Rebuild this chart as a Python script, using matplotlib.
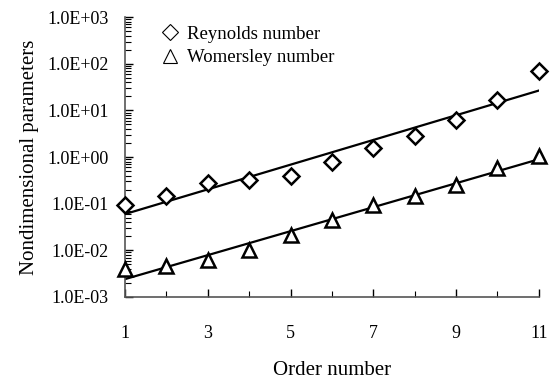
import numpy as np
import matplotlib.pyplot as plt
from matplotlib.ticker import FuncFormatter, LogLocator, FixedLocator

# Dati
order = np.arange(1, 12)
reynolds = [0.095, 0.146, 0.28, 0.33, 0.39, 0.8, 1.56, 2.9, 6.2, 17, 70]
womersley = [0.0039, 0.0047, 0.0062, 0.0102, 0.021, 0.045, 0.094, 0.146, 0.25, 0.57, 1.05]
xticks_major = [1, 3, 5, 7, 9, 11]
xticks_minor = [2, 4, 6, 8, 10]

plt.rcParams['font.family'] = ['Liberation Serif', 'DejaVu Serif']

fig = plt.figure(figsize=(5.51, 3.81), dpi=100)
ax = fig.add_axes([0.227, 0.2205, 0.751, 0.7345])

# Trendline esponenziale (fit lineare su log10)
def trend(y):
    k, b = np.polyfit(order, np.log10(y), 1)
    return 10 ** (k * order + b)

ax.plot(order, reynolds, linestyle='none', marker='D', markersize=8,
        markerfacecolor='white', markeredgecolor='black', markeredgewidth=1.8,
        label='Reynolds number', clip_on=False, zorder=3)
ax.plot(order, womersley, linestyle='none', marker='^', markersize=10,
        markerfacecolor='white', markeredgecolor='black', markeredgewidth=1.8,
        label='Womersley number', clip_on=False, zorder=3)
ax.plot(order, trend(reynolds), color='black', linewidth=1.6, zorder=1)
ax.plot(order, trend(womersley), color='black', linewidth=1.6, zorder=1)

ax.set_yscale('log')
ax.set_ylim(1e-3, 1e3)
ax.set_xlim(1, 11)
ax.set_xticks(xticks_major)
ax.xaxis.set_minor_locator(FixedLocator(xticks_minor))
ax.yaxis.set_major_locator(LogLocator(base=10, numticks=10))
ax.yaxis.set_minor_locator(LogLocator(base=10, subs=np.arange(2, 10), numticks=10))
ax.yaxis.set_major_formatter(FuncFormatter(lambda v, p: f"{v:.1E}"))

for s in ['top', 'right']:
    ax.spines[s].set_visible(False)
for s in ['left', 'bottom']:
    ax.spines[s].set_linewidth(1.2)
    ax.spines[s].set_color('#555555')
ax.tick_params(axis='both', which='major', direction='in', length=6, width=1, labelsize=13)
ax.tick_params(axis='both', which='minor', direction='in', length=4, width=0.8)
ax.tick_params(axis='x', which='major', pad=20)
ax.tick_params(axis='y', which='major', pad=12)

ax.set_xlabel("Order number", fontsize=15, labelpad=14)
ax.set_ylabel("Nondimensional parameters", fontsize=15, labelpad=6)

leg = ax.legend(loc='upper left', bbox_to_anchor=(0.04, 1.03), frameon=False,
                fontsize=13.5, handletextpad=0.3, handlelength=1.2, labelspacing=0.35)
for h in leg.legend_handles:
    h.set_markeredgewidth(0.8)

fig.savefig('out.png', dpi=100)
